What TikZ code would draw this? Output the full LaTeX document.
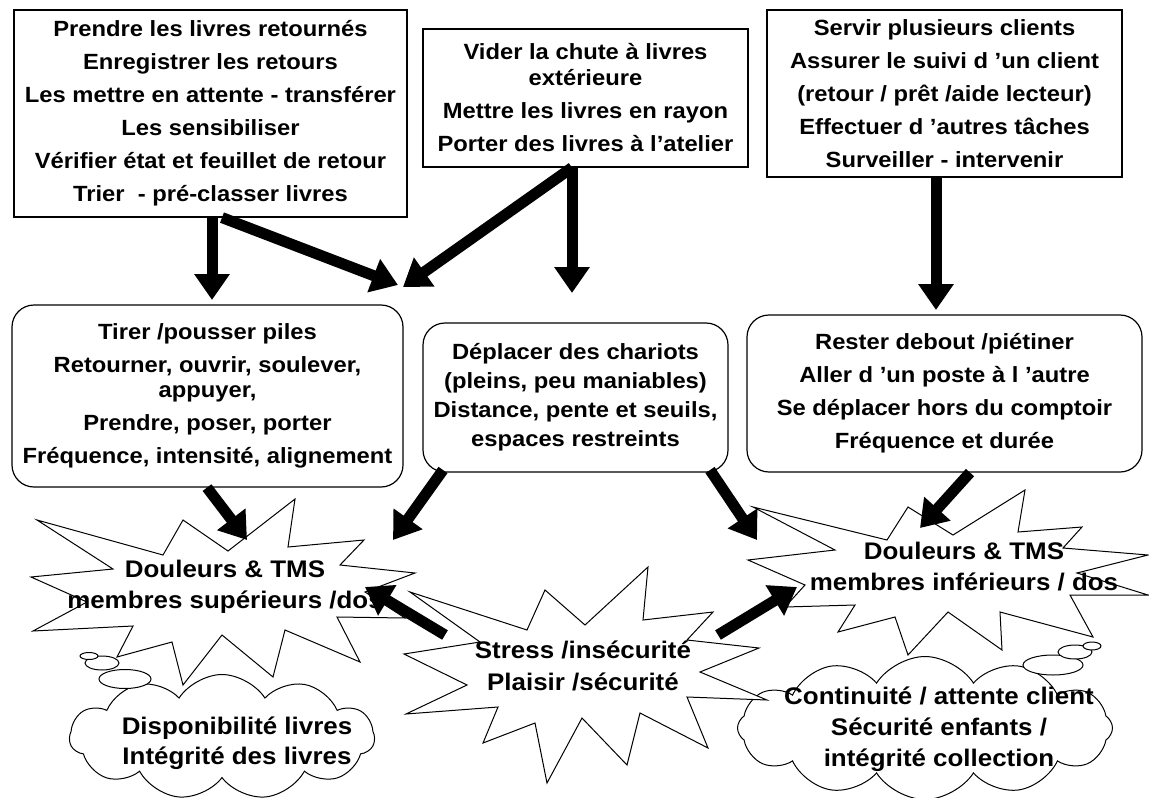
\documentclass[tikz,border=0pt]{standalone}
\usepackage{fontspec}
\setmainfont{Liberation Sans}[FakeStretch=1.08]
\usetikzlibrary{arrows.meta,shapes.symbols}
\begin{document}
\begin{tikzpicture}[x=1pt,y=-1pt,
  sqbox/.style={draw,line width=1.2pt,fill=white,inner sep=0pt,align=center,
     font=\fontsize{22}{33}\selectfont\bfseries},
  rbox/.style={sqbox,rounded corners=22pt},
  arr/.style={line width=11pt,-{Triangle[length=26pt,width=34pt]}},
  star/.style={draw,line width=1pt,fill=white,line join=miter},
  bigtxt/.style={align=center,inner sep=0pt,font=\fontsize{24}{31}\selectfont\bfseries},
  puff/.style={draw,line width=1pt,fill=white},
]
\clip (0,0) rectangle (1149,798);
\fill[white] (0,0) rectangle (1149,798);

% top boxes
\node[sqbox,minimum width=393pt,minimum height=207pt] (b1) at (210.5,113.5)
 {Prendre les livres retournés\\Enregistrer les retours\\Les mettre en attente - transférer\\Les sensibiliser\\Vérifier état et feuillet de retour\\Trier\ \ - pré-classer livres};
\node[sqbox,minimum width=325pt,minimum height=138pt] (b2) at (585.5,98)
 {Vider la chute à livres\\[-7pt]extérieure\\Mettre les livres en rayon\\Porter des livres à l’atelier};
\node[sqbox,minimum width=355pt,minimum height=167pt] (b3) at (944.5,93.5)
 {Servir plusieurs clients\\Assurer le suivi d ’un client\\(retour / prêt /aide lecteur)\\Effectuer d ’autres tâches\\Surveiller - intervenir};

% middle rounded boxes
\node[rbox,minimum width=391pt,minimum height=182pt] (r1) at (207.5,396)
 {Tirer /pousser piles\\Retourner, ouvrir, soulever,\\[-8pt]appuyer,\\Prendre, poser, porter\\Fréquence, intensité, alignement};
\node[rbox,minimum width=305pt,minimum height=149pt,font=\fontsize{22}{29}\selectfont\bfseries] (r2) at (575.5,397.5)
 {Déplacer des chariots\\(pleins, peu maniables)\\Distance, pente et seuils,\\espaces restreints};
\node[rbox,minimum width=395pt,minimum height=157pt] (r3) at (944.5,393.5)
 {Rester debout /piétiner\\Aller d ’un poste à l ’autre\\Se déplacer hors du comptoir\\Fréquence et durée};

% star 1
\draw[star] (37,520) -- (163,555) -- (183,520) -- (228,551) -- (295,499) -- (288,547)
 -- (364,540) -- (340,565) -- (415,573) -- (365,592) -- (405,618) -- (337,617)
 -- (360,662) -- (285,630) -- (273,677) -- (222,635) -- (183,685) -- (172,642)
 -- (117,657) -- (133,626) -- (33,631) -- (87,602) -- (31,577) -- (113,569) -- cycle;
% star 2
\draw[star] (753,507) -- (887,540) -- (908,507) -- (953,535) -- (1025,490) -- (1018,532)
 -- (1082,527) -- (1063,548) -- (1148,555) -- (1077,573) -- (1148,595) -- (1070,595)
 -- (1093,637) -- (1000,612) -- (1002,650) -- (948,612) -- (908,655) -- (895,617)
 -- (838,632) -- (855,605) -- (785,607) -- (805,585) -- (748,560) -- (835,550) -- cycle;

% thought clouds
\node[cloud,cloud puffs=11,cloud puff arc=115,cloud ignores aspect,puff,
  minimum width=305pt,minimum height=125pt,inner sep=0pt] (c1) at (222,737) {};
\draw[puff] (125,679) ellipse [x radius=26,y radius=9.5];
\draw[puff] (102,663) ellipse [x radius=17,y radius=7];
\draw[puff] (89,656) ellipse [x radius=9,y radius=3.5];
\node[cloud,cloud puffs=12,cloud puff arc=115,cloud ignores aspect,puff,
  minimum width=375pt,minimum height=143pt,inner sep=0pt] (c2) at (925,728) {};
\draw[puff] (1053,665) ellipse [x radius=30,y radius=10];
\draw[puff] (1075,652) ellipse [x radius=17,y radius=7];
\draw[puff] (1092,646) ellipse [x radius=9,y radius=4];

% stress star
\draw[star] (410,592) -- (527,630) -- (545,590) -- (585,625) -- (648,567) -- (643,620)
 -- (713,612) -- (687,640) -- (759,648) -- (700,672) -- (767,700) -- (687,697)
 -- (708,748) -- (640,713) -- (627,765) -- (582,718) -- (547,783) -- (535,723)
 -- (483,743) -- (498,707) -- (406,714) -- (467,685) -- (404,654) -- (480,642) -- cycle;

% texts
\node[bigtxt] (s1) at (225,587) {Douleurs \& TMS\\membres supérieurs /dos};
\node[bigtxt] (s2) at (964,567) {Douleurs \& TMS\\membres inférieurs / dos};
\node[bigtxt,font=\fontsize{24}{32}\selectfont\bfseries] (s3) at (583,666) {Stress /insécurité\\Plaisir /sécurité};
\node[bigtxt,font=\fontsize{24}{30}\selectfont\bfseries] (t1) at (237,743) {Disponibilité livres\\Intégrité des livres};
\node[bigtxt] (t2) at (939,729) {Continuité / attente client\\Sécurité enfants /\\intégrité collection};

% arrow coordinates
\coordinate (a1t) at (212,300);
\coordinate (a2s) at (222,0);
\coordinate (a2t) at (398,285);
\coordinate (a3s) at (572,0);
\coordinate (a3t) at (403,287);
\coordinate (a4t) at (572,293);
\coordinate (a5t) at (936,310);
\coordinate (a6s) at (207,0);
\coordinate (a6t) at (247,540);
\coordinate (a7s) at (443,470);
\coordinate (a7t) at (393,540);
\coordinate (a8s) at (710,470);
\coordinate (a8t) at (757,540);
\coordinate (a9s) at (970,0);
\coordinate (a9t) at (920,528);
\coordinate (a10s) at (445,635);
\coordinate (a10t) at (365,587);
\coordinate (a11s) at (718,635);
\coordinate (a11t) at (797,587);

\draw[arr] (b1.south -| a1t) -- (a1t);
\draw[arr] (b1.south -| a2s) -- (a2t);
\draw[arr] (b2.south -| a3s) -- (a3t);
\draw[arr] (b2.south -| a4t) -- (a4t);
\draw[arr] (b3.south -| a5t) -- (a5t);
\draw[arr] (r1.south -| a6s) -- (a6t);
\draw[arr] (a7s) -- (a7t);
\draw[arr] (a8s) -- (a8t);
\draw[arr] (r3.south -| a9s) -- (a9t);
\draw[arr] (a10s) -- (a10t);
\draw[arr] (a11s) -- (a11t);
\end{tikzpicture}
\end{document}
